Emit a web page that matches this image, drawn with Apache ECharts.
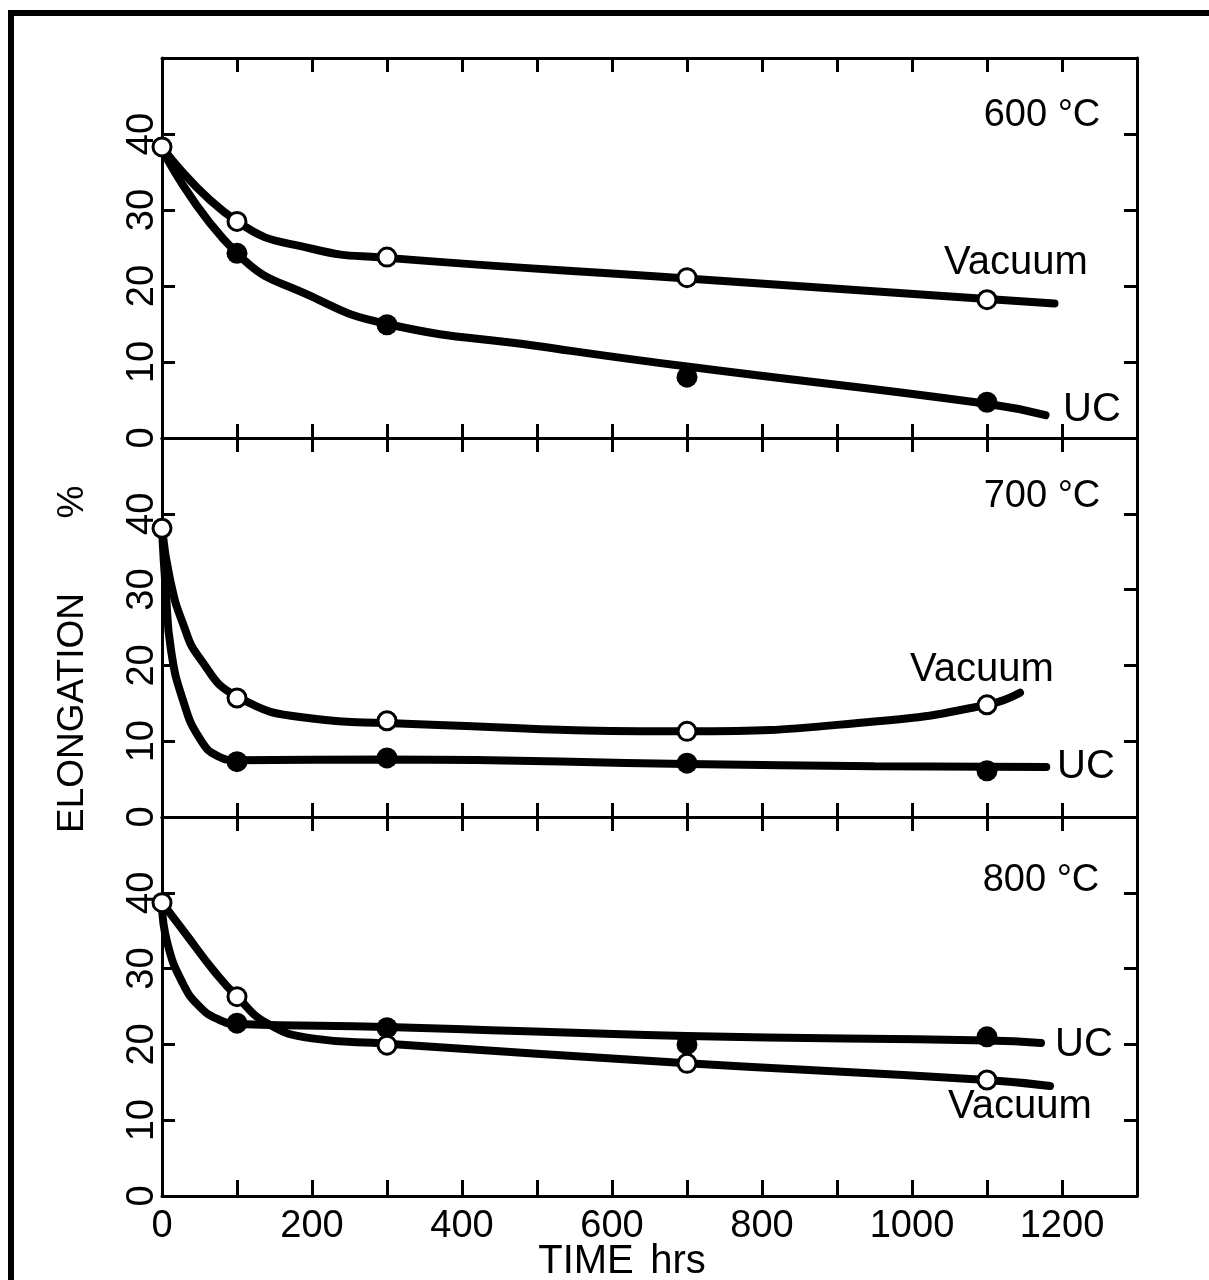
<!DOCTYPE html>
<html>
<head>
<meta charset="utf-8">
<title>Elongation vs time</title>
<script src="https://cdn.jsdelivr.net/npm/echarts@6/dist/echarts.min.js"></script>
<style>
  html, body { margin: 0; padding: 0; background: #fff; }
  #chart { width: 1209px; height: 1280px; }
</style>
</head>
<body>
<div id="chart"></div>
<script>
// test times (hrs)
const hours = [0, 100, 300, 700, 1100];

// measured points, elongation %
const vac600 = [38.3, 28.5, 23.8, 21.1, 18.2];
const uc600 = [null, 24.3, 14.9, 8.0, 4.7];
const vac700 = [38.1, 15.7, 12.7, 11.3, 14.8];
const uc700 = [null, 7.3, 7.8, 7.1, 6.1];
const vac800 = [38.7, 26.3, 19.9, 17.5, 15.3];
const uc800 = [null, 22.8, 22.2, 20.0, 21.0];

// hand-drawn curves [hrs, %]
const vac600Curve = [[0, 38.3], [100, 28.5], [200, 24.9], [300, 23.7], [700, 21.0], [1100, 18.3], [1190, 17.7]];
const uc600Curve = [[0, 38], [100, 24.3], [200, 18.6], [300, 15], [500, 12.1], [700, 9.4], [1100, 4.5], [1178, 3.0]];
const vac700Curve = [[0, 38.1], [11, 31.2], [28, 25.5], [50, 21], [100, 15.9], [200, 13], [300, 12.4], [700, 11.3], [950, 12.6], [1100, 14.8], [1144, 16.4]];
const uc700Curve = [[0, 38], [5, 30], [12, 22], [28, 15.4], [50, 10.4], [75, 8], [100, 7.5], [300, 7.6], [700, 7.0], [950, 6.7], [1179, 6.6]];
const vac800Curve = [[0, 38.7], [30, 34.8], [70, 29.6], [100, 26.3], [140, 22.8], [200, 20.8], [300, 20.1], [700, 17.5], [1100, 15.3], [1184, 14.5]];
const uc800Curve = [[0, 38.5], [7, 33.4], [28, 28], [50, 25], [75, 23.3], [100, 22.7], [300, 22.3], [700, 21.1], [1100, 20.5], [1172, 20.2]];

const panelTitles = ['600 °C', '700 °C', '800 °C'];
const xTicks = [0, 200, 400, 600, 800, 1000, 1200];
const yTicks = [0, 10, 20, 30, 40];

const FONT = '"Liberation Sans", Arial, sans-serif';
const panelTops = [58, 438, 817];
const panelHeight = 379;

function pairs(xs, ys) {
  return xs.map((x, i) => [x, ys[i]]).filter(p => p[1] != null);
}

const axisLine = { onZero: false, lineStyle: { color: '#000', width: 3 } };

const grids = [], xAxes = [], yAxes = [], series = [];
const panels = [
  { vac: vac600, uc: uc600, vacCurve: vac600Curve, ucCurve: uc600Curve },
  { vac: vac700, uc: uc700, vacCurve: vac700Curve, ucCurve: uc700Curve },
  { vac: vac800, uc: uc800, vacCurve: vac800Curve, ucCurve: uc800Curve }
];

panels.forEach((p, i) => {
  grids.push({ left: 162, width: 975, top: panelTops[i], height: panelHeight + (i === 0 ? 1 : 0) });

  ['bottom', 'top'].forEach(pos => {
    const isLabelAxis = i === 2 && pos === 'bottom';
    xAxes.push({
      type: 'value', gridIndex: i, position: pos,
      min: 0, max: 1300, interval: 100,
      splitLine: { show: false },
      axisLine: axisLine,
      axisTick: { inside: true, length: (i === 2 && pos === 'bottom') ? 16 : 14, lineStyle: { color: '#000', width: 3 } },
      axisLabel: {
        show: isLabelAxis, color: '#000', fontSize: 38, fontFamily: FONT, margin: 12,
        formatter: v => xTicks.indexOf(v) >= 0 ? String(v) : ''
      }
    });
  });

  ['left', 'right'].forEach(pos => {
    yAxes.push({
      type: 'value', gridIndex: i, position: pos,
      min: 0, max: 50, interval: 10,
      splitLine: { show: false },
      axisLine: axisLine,
      axisTick: { inside: true, length: 13, lineStyle: { color: '#000', width: 3 } },
      axisLabel: {
        show: pos === 'left', rotate: 90, color: '#000', fontSize: 38, fontFamily: FONT, margin: 0,
        formatter: v => yTicks.indexOf(v) >= 0 ? String(v) : ''
      }
    });
  });

  const xi = i * 2, yi = i * 2;
  const lineBase = {
    type: 'line', xAxisIndex: xi, yAxisIndex: yi,
    smooth: 0.5, showSymbol: false, symbol: 'none',
    lineStyle: { color: '#000', width: 8, cap: 'round' }, z: 2, silent: true
  };
  series.push(Object.assign({ name: 'Vacuum curve ' + i, data: p.vacCurve }, lineBase));
  series.push(Object.assign({ name: 'UC curve ' + i, data: p.ucCurve }, lineBase));
  series.push({
    name: 'UC ' + i, type: 'scatter', xAxisIndex: xi, yAxisIndex: yi, clip: false,
    symbol: 'circle', symbolSize: 21, data: pairs(hours, p.uc),
    itemStyle: { color: '#000', opacity: 1 }, z: 3
  });
  series.push({
    name: 'Vacuum ' + i, type: 'scatter', xAxisIndex: xi, yAxisIndex: yi, clip: false,
    symbol: 'circle', symbolSize: 18, data: pairs(hours, p.vac),
    itemStyle: { color: '#fff', borderColor: '#000', borderWidth: 3, opacity: 1 }, z: 4
  });
});

function txt(text, x, y, size, rot) {
  return {
    type: 'text', x: x, y: y, rotation: rot || 0, z: 10,
    style: { text: text, fill: '#000', font: size + 'px ' + FONT, textAlign: 'center', textVerticalAlign: 'middle' }
  };
}

const graphics = [
  { type: 'line', shape: { x1: 11, y1: 10, x2: 11, y2: 1280 }, style: { stroke: '#000', lineWidth: 6 } },
  { type: 'line', shape: { x1: 8, y1: 13, x2: 1209, y2: 13 }, style: { stroke: '#000', lineWidth: 6 } },
  txt(panelTitles[0], 1042, 116, 38),
  txt(panelTitles[1], 1042, 497, 38),
  txt(panelTitles[2], 1041, 881, 38),
  txt('Vacuum', 1016, 263, 40),
  txt('UC', 1092, 410, 40),
  txt('Vacuum', 982, 670, 40),
  txt('UC', 1086, 767, 40),
  txt('UC', 1084, 1045, 40),
  txt('Vacuum', 1020, 1107, 40),
  txt('ELONGATION', 73, 713, 37, Math.PI / 2),
  txt('%', 73, 502, 37, Math.PI / 2),
  txt('TIME', 586, 1262, 40),
  txt('hrs', 678, 1262, 40)
];

const chart = echarts.init(document.getElementById('chart'), null, { renderer: 'canvas' });
chart.setOption({
  animation: false,
  backgroundColor: '#fff',
  grid: grids,
  xAxis: xAxes,
  yAxis: yAxes,
  series: series,
  graphic: graphics
});
</script>
</body>
</html>
